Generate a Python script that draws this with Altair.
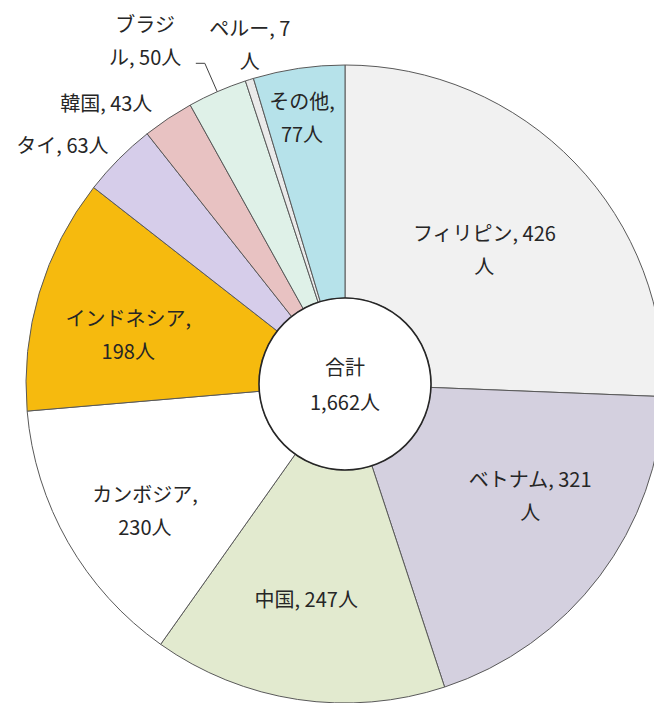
import math
import altair as alt
import pandas as pd

# ---- data ----
categories = ["フィリピン", "ベトナム", "中国", "カンボジア", "インドネシア",
              "タイ", "韓国", "ブラジル", "ペルー", "その他"]
values = [426, 321, 247, 230, 198, 63, 43, 50, 7, 77]
labels = ["フィリピン, 426\n人", "ベトナム, 321\n人", "中国, 247人", "カンボジア,\n230人",
          "インドネシア,\n198人", "タイ, 63人", "韓国, 43人", "ブラジ\nル, 50人",
          "ペルー, 7\n人", "その他,\n77人"]
total_label = "合計\n1,662人"

# ---- styling / layout ----
colors = ["#f1f1f1", "#d4d0df", "#e2eacf", "#ffffff", "#f6ba0e",
          "#d6cdea", "#e8c2c2", "#dff1e8", "#eaeaea", "#b6e2ea"]
label_r = [192, 217, 220, 238, 222, 369, 367, 396, 351, 268]          # px from centre
label_shift = [0.4, -5.6, 1.6, -3.0, -4.1, -4.8, -6.9, -6.7, 1.7, -0.9]  # degrees

W, H = 646, 695
CX, CY = 337, 376
R_OUT, R_IN = 319, 86
FONT = "Noto Sans CJK JP"
TXT = "#262626"
LH = 33

df = pd.DataFrame({"cat": categories, "value": values, "label": labels,
                   "idx": list(range(len(categories)))})

arcs = alt.Chart(df).mark_arc(radius=R_OUT, radius2=R_IN, stroke="#595959",
                              strokeWidth=1).encode(
    theta=alt.Theta("value:Q", stack=True),
    order=alt.Order("idx:Q"),
    color=alt.Color("cat:N", scale=alt.Scale(domain=categories, range=colors), legend=None),
    x=alt.value(CX), y=alt.value(CY),
)

r_arr = "[" + ",".join(str(v) for v in label_r) + "]"
s_arr = "[" + ",".join(str(v) for v in label_shift) + "]"

polar = alt.Chart(df).transform_joinaggregate(
    total="sum(value)"
).transform_window(
    cum="sum(value)", sort=[alt.SortField("idx")], frame=[None, 0]
).transform_calculate(
    mid="2*PI*(datum.cum - datum.value/2)/datum.total",
    nl="length(split(datum.label, '\\n'))",
).transform_calculate(
    ang=f"datum.mid + {s_arr}[datum.idx]*PI/180",
    r=f"{r_arr}[datum.idx]",
).transform_calculate(
    lx=f"{CX} + datum.r*sin(datum.ang)",
    ly=f"{CY} - datum.r*cos(datum.ang) - (datum.nl - 1)*{LH}/2",
    e1x=f"{CX} + {R_OUT}*sin(datum.mid)",
    e1y=f"{CY} - {R_OUT}*cos(datum.mid)",
    e2x=f"{CX} + 350*sin(datum.mid)",
    e2y=f"{CY} - 350*cos(datum.mid)",
).transform_calculate(
    e3x="datum.e2x - 9",
)

text_layer = polar.mark_text(font=FONT, fontSize=20, color=TXT, lineBreak="\n",
                             lineHeight=LH, align="center", baseline="middle").encode(
    x=alt.X("lx:Q", scale=None, axis=None),
    y=alt.Y("ly:Q", scale=None, axis=None),
    text="label:N",
)

leader = polar.transform_filter("datum.cat == 'ブラジル'")
lead1 = leader.mark_rule(color="#404040", strokeWidth=1).encode(
    x=alt.X("e1x:Q", scale=None, axis=None), y=alt.Y("e1y:Q", scale=None, axis=None),
    x2="e2x:Q", y2="e2y:Q",
)
lead2 = leader.mark_rule(color="#404040", strokeWidth=1).encode(
    x=alt.X("e2x:Q", scale=None, axis=None), y=alt.Y("e2y:Q", scale=None, axis=None),
    x2="e3x:Q", y2="e2y:Q",
)

center_df = pd.DataFrame({"t": [total_label]})
circle = alt.Chart(center_df).mark_arc(radius=R_IN, theta=0, theta2=2 * math.pi,
                                       fill="white", stroke="#262626",
                                       strokeWidth=1.6).encode(
    x=alt.value(CX), y=alt.value(CY),
)
center_text = alt.Chart(center_df).mark_text(font=FONT, fontSize=20, color=TXT,
                                             lineBreak="\n", lineHeight=35,
                                             align="center", baseline="middle").encode(
    x=alt.value(CX), y=alt.value(CY + 2 - 35 / 2), text="t:N",
)

chart = alt.layer(arcs, lead1, lead2, text_layer, circle, center_text).properties(
    width=W, height=H, padding=0, autosize=alt.AutoSizeParams(type="none"),
    background="white",
).configure_view(stroke=None)

chart.save("out.html", embed_options={"renderer": "svg", "actions": False})
